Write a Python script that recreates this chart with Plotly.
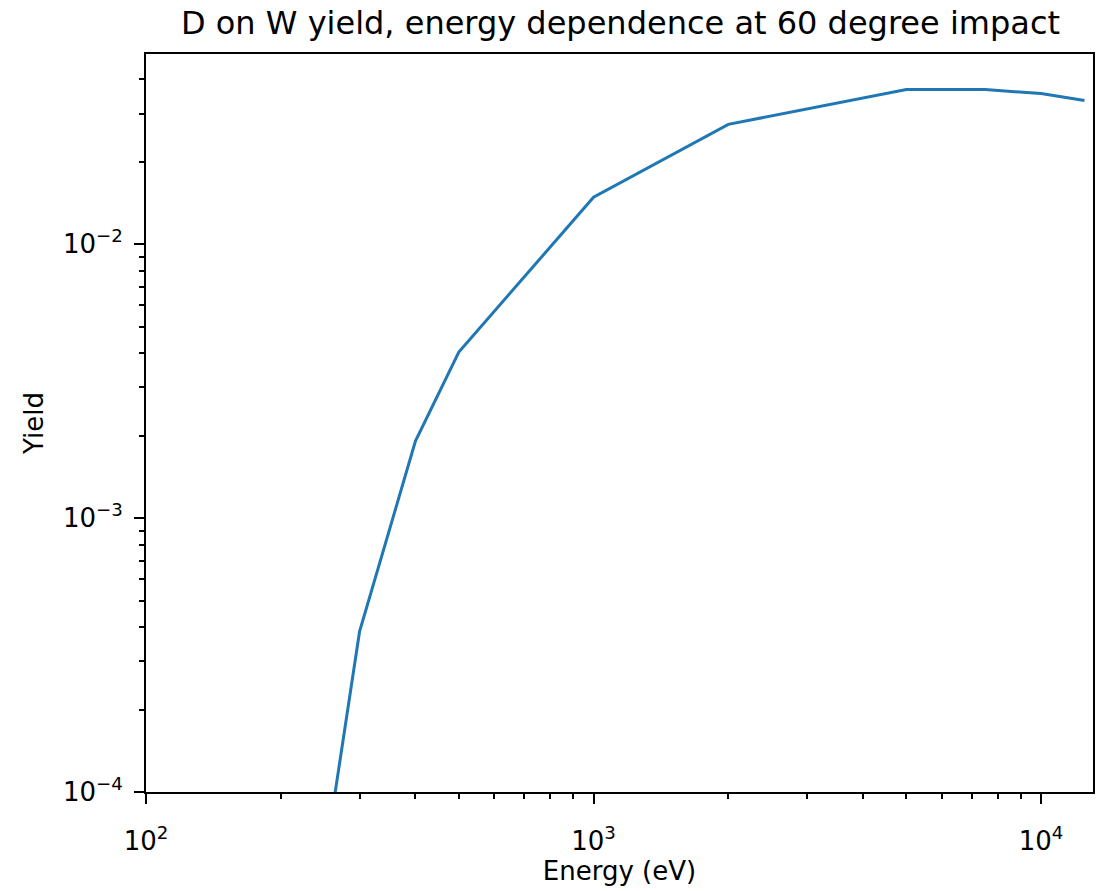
import numpy as np
import plotly.graph_objects as go

energy = [250, 300, 400, 500, 1000, 2000, 5000, 7500, 10000, 12500]
yield_vals = [5.4e-5, 3.85e-4, 1.91e-3, 4.04e-3, 0.01484, 0.0274, 0.0367, 0.0367, 0.0355, 0.0335]

x_major = [100, 1000, 10000]
x_major_text = ["10<sup>2</sup>", "10<sup>3</sup>", "10<sup>4</sup>"]
y_major = [1e-4, 1e-3, 1e-2]
y_major_text = ["10<sup>\u22124</sup>", "10<sup>\u22123</sup>", "10<sup>\u22122</sup>"]

x_minor = [m * 10 ** e for e in (2, 3, 4) for m in range(2, 10) if m * 10 ** e < 13000]
y_minor = [m * 10.0 ** e for e in (-4, -3, -2) for m in range(2, 10) if m * 10.0 ** e < 0.05]

fig = go.Figure()
fig.add_trace(go.Scatter(x=energy, y=yield_vals, mode="lines",
                         line=dict(color="#1f77b4", width=3), showlegend=False))

font = "DejaVu Sans"
axis_common = dict(showgrid=False, zeroline=False, showline=True, linecolor="black",
                   linewidth=2, mirror=True, ticks="outside", ticklen=10, tickwidth=2,
                   tickcolor="black", tickfont=dict(family=font, size=26, color="black"))

fig.update_xaxes(type="log", range=[2, np.log10(13060)], tickmode="array",
                 tickvals=x_major, ticktext=x_major_text, ticklabelstandoff=15,
                 minor=dict(tickmode="array", tickvals=x_minor, ticks="outside",
                            ticklen=5, tickwidth=1.5, tickcolor="black"),
                 title=dict(text="Energy (eV)", font=dict(family=font, size=26, color="black"),
                            standoff=6),
                 **axis_common)
fig.update_yaxes(type="log", range=[-4, np.log10(0.0495)], tickmode="array",
                 tickvals=y_major, ticktext=y_major_text, ticklabelstandoff=6,
                 minor=dict(tickmode="array", tickvals=y_minor, ticks="outside",
                            ticklen=5, tickwidth=1.5, tickcolor="black"),
                 title=dict(text="Yield", font=dict(family=font, size=26, color="black"),
                            standoff=12),
                 **axis_common)

fig.update_layout(
    width=1102, height=891,
    margin=dict(l=146, r=7, t=54, b=99),
    paper_bgcolor="white", plot_bgcolor="white",
    title=dict(text="D on W yield, energy dependence at 60 degree impact",
               font=dict(family=font, size=32, color="black"),
               x=(146 + 1095) / 2 / 1102, xanchor="center", y=1 - 23 / 891, yanchor="middle"),
)

fig.write_html("out.html")
